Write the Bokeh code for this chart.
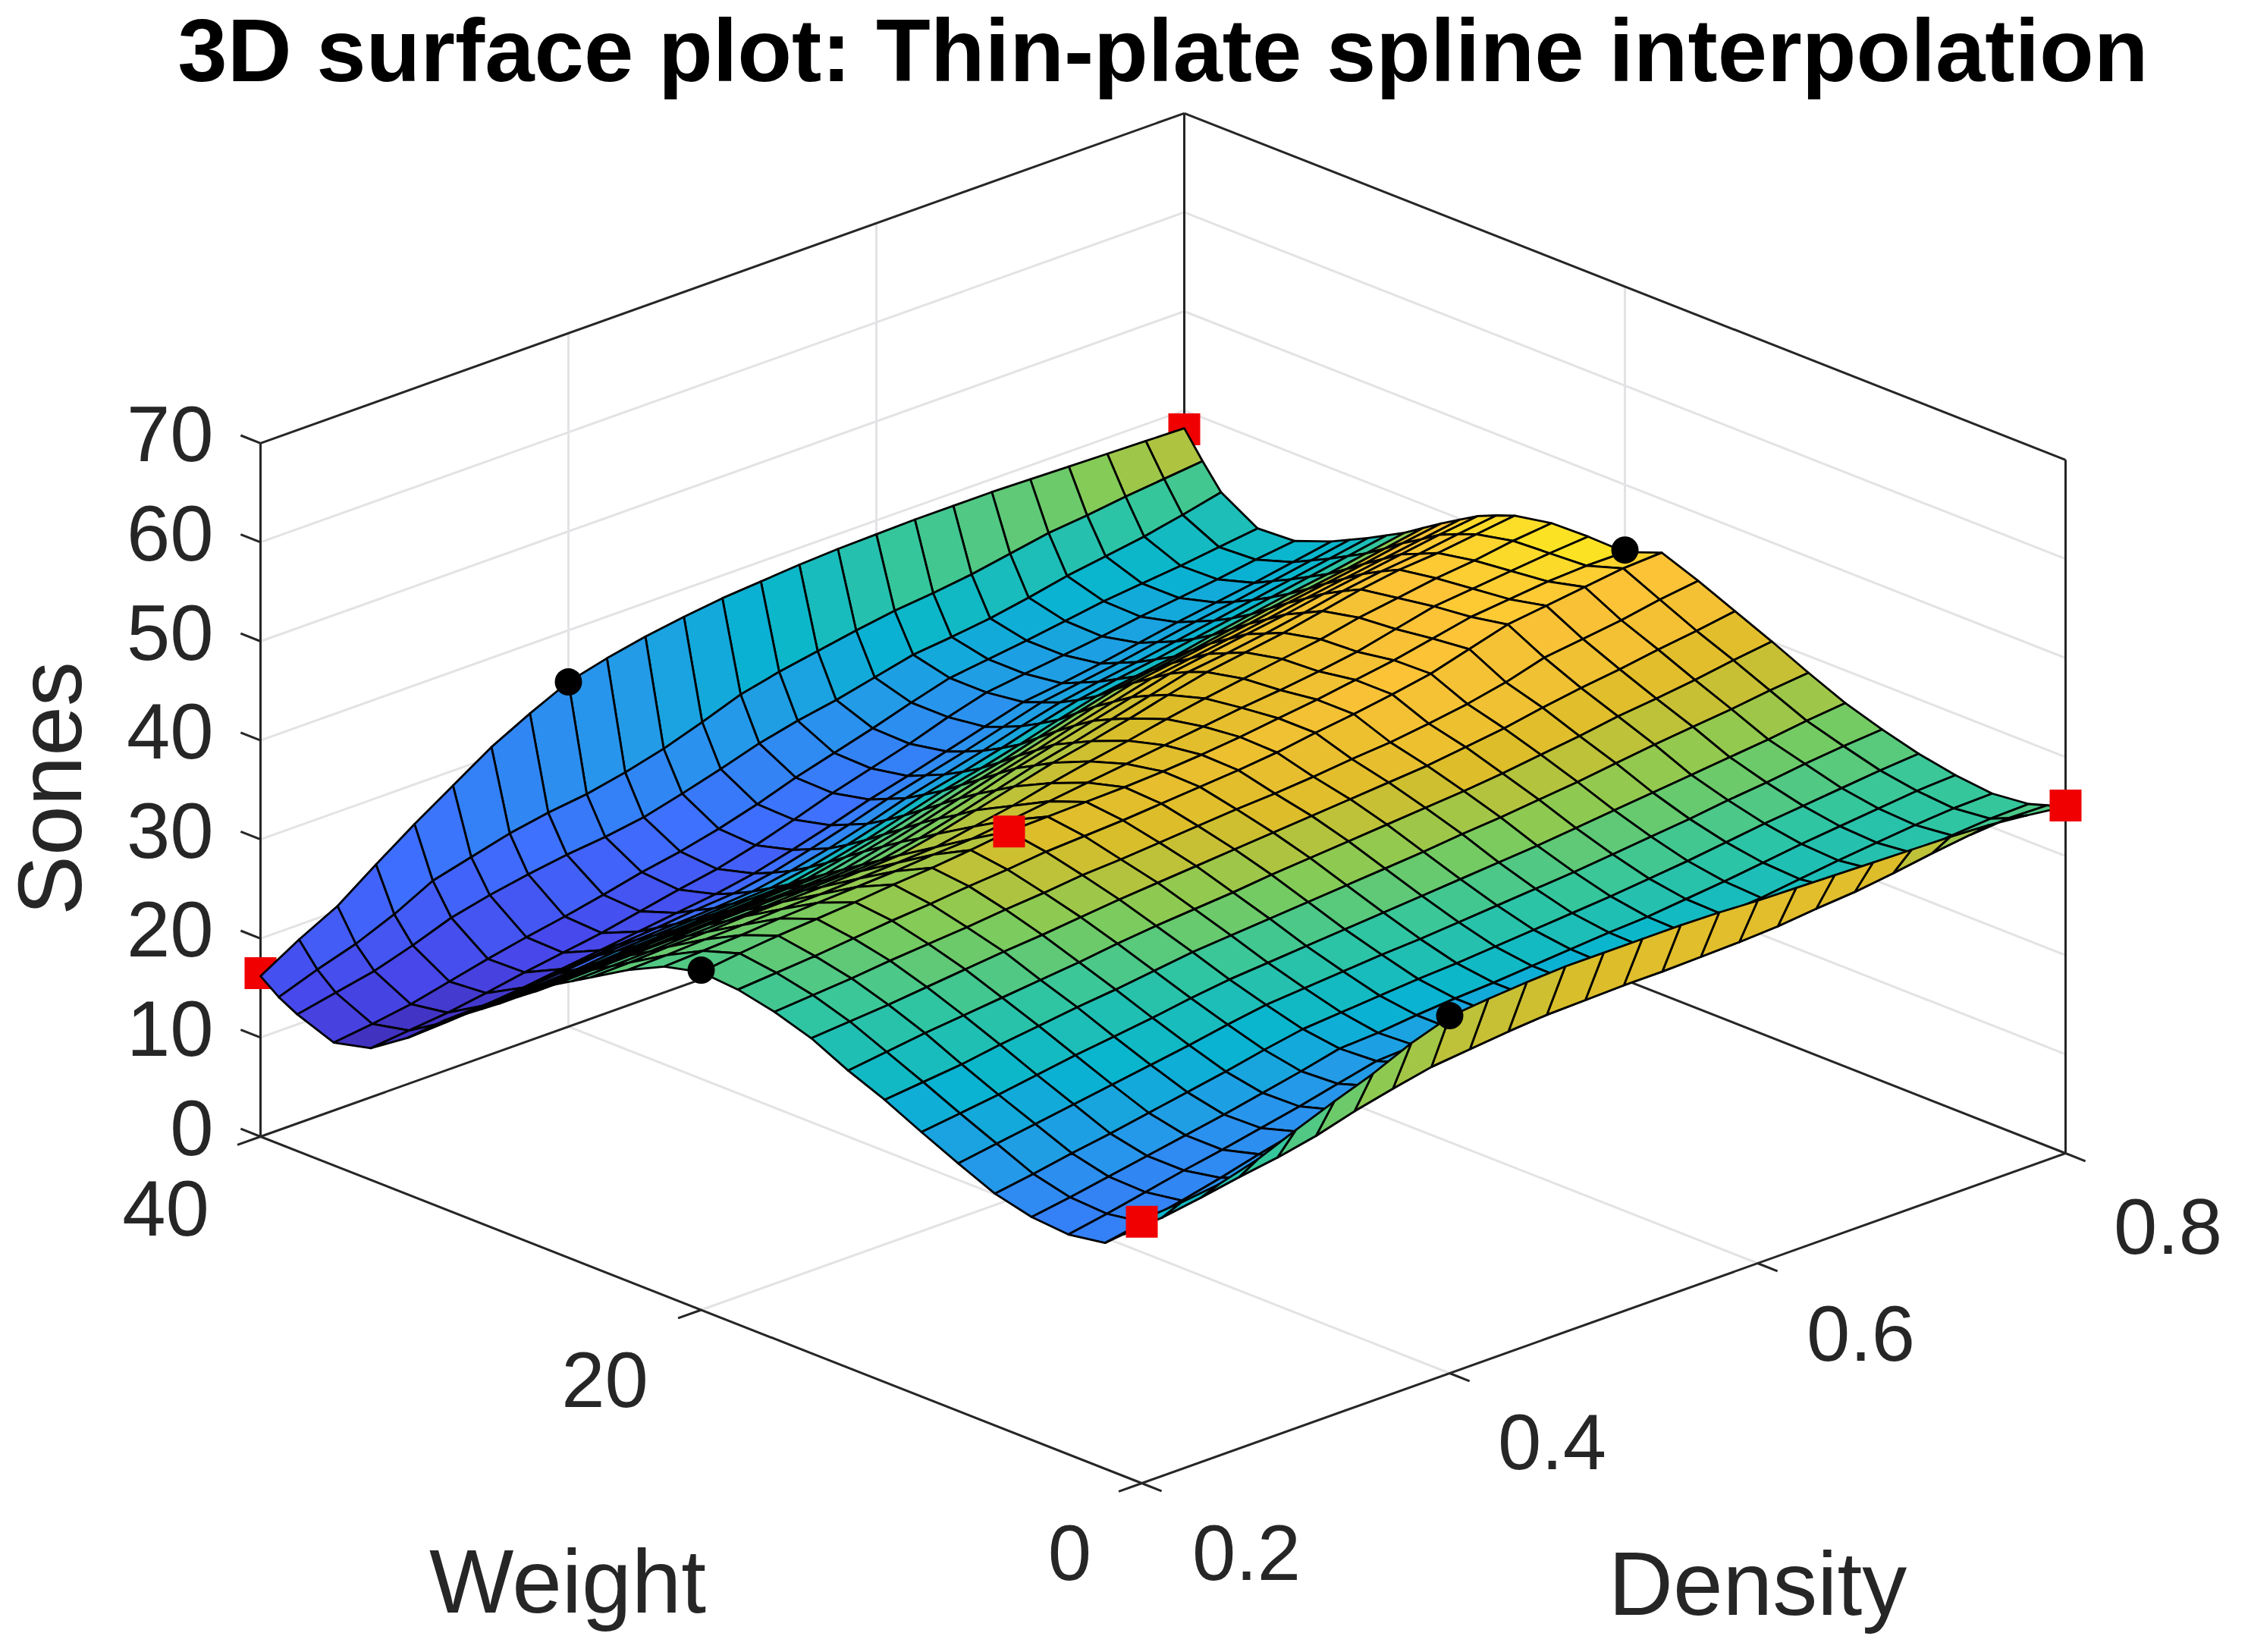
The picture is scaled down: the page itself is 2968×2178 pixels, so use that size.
import numpy as np
from bokeh.plotting import figure
from bokeh.models import Range1d, ColumnDataSource, LinearColorMapper
from bokeh.core.properties import value
from bokeh.embed import file_html
from bokeh.resources import INLINE

TITLE = "3D surface plot: Thin-plate spline interpolation"
density_ticks = [0.2, 0.4, 0.6, 0.8]
weight_ticks = [0, 20, 40]
sones_ticks = [0, 10, 20, 30, 40, 50, 60, 70]

# data points shown as markers
red_back_density = [0.2, 0.8]
red_back_weight = [40, 40]
red_back_sones = [16.5, 38.1]
red_front_density = [0.2, 0.8, 0.4]
red_front_weight = [0, 0, 20]
red_front_sones = [26.4, 35.1, 37.2]
black_density = [0.2, 0.4, 0.8, 0.4]
black_weight = [20, 40, 20, 0]
black_sones = [34.3, 34.8, 43.4, 36.1]

# mesh nodes
density_nodes = [0.2, 0.225, 0.25, 0.275, 0.3, 0.325, 0.35, 0.375, 0.4, 0.425, 0.45, 0.475, 0.5,
                 0.525, 0.55, 0.575, 0.6, 0.625, 0.65, 0.675, 0.7, 0.725, 0.75, 0.775, 0.8]
weight_nodes = [0, 0.83, 1.67, 3.33, 5, 6.67, 8.33, 10, 11.67, 13.33, 15, 16.67, 18.33, 20,
                21.67, 23.33, 25, 25.83, 26.67, 27.5, 28.33, 29.17, 30, 30.83, 31.67, 32.5, 33.33,
                35, 36.67, 38.33, 39.17, 40]

# surface height at each node, one row per weight node
sones = [
[26.6,26.9,27.4,28.5,30.1,31.6,33,34.7,36,36.4,36.7,36.9,36.9,36.9,36.9,36.8,36.6,36.5,36.4,36.3,36.2,36.1,35.9,35.5,35],
[24.4,24.7,25.3,26,26.6,27.4,28.5,29.4,30.2,30.6,31,31.3,31.4,31.5,31.5,31.6,31.7,31.9,32.3,32.6,33.1,33.7,34.2,34.5,34.4],
[22.8,23.5,24.3,25.2,26.2,27.1,27.9,28.9,29.8,30,30.2,30.4,30.5,30.7,30.9,31,31.2,31.5,31.8,32.2,32.7,33,33.4,33.7,33.8],
[22.2,22.9,23.7,24.5,25.2,26,26.8,27.7,28.6,28.8,29,29.3,29.5,29.8,30,30.3,30.5,30.9,31.2,31.7,32.2,32.6,33,33.3,33.4],
[22.5,23.1,23.8,24.5,25.2,25.9,26.7,27.5,28.4,28.6,29,29.3,29.5,29.8,30.1,30.4,30.6,31,31.4,31.9,32.4,32.8,33.2,33.6,33.8],
[23.4,24,24.7,25.3,26,26.7,27.4,28.2,28.9,29.2,29.5,29.8,30,30.3,30.6,30.9,31.2,31.6,32,32.5,33,33.4,33.8,34.2,34.5],
[25,25.6,26.2,26.8,27.4,28,28.6,29.3,29.9,30.2,30.5,30.8,31,31.3,31.6,31.9,32.2,32.6,33,33.4,33.9,34.3,34.8,35.2,35.5],
[26.7,27.2,27.7,28.3,28.9,29.4,29.9,30.5,31,31.3,31.6,31.9,32.2,32.5,32.8,33.1,33.4,33.8,34.2,34.6,35,35.4,35.8,36.3,36.7],
[28.5,28.9,29.3,29.9,30.4,30.9,31.3,31.8,32.3,32.6,32.9,33.2,33.5,33.8,34.1,34.5,34.8,35.2,35.6,36.1,36.6,37,37.4,37.9,38.3],
[30,30.5,31,31.4,31.8,32.2,32.6,33.1,33.5,33.8,34.1,34.5,34.8,35.1,35.4,35.7,36,36.4,36.9,37.4,38,38.4,38.9,39.5,40],
[31.8,32.1,32.4,32.8,33.2,33.6,33.9,34.3,34.7,35,35.3,35.6,35.9,36.2,36.5,36.8,37.1,37.6,38.1,38.8,39.4,39.9,40.5,41,41.6],
[33,33.3,33.6,34,34.3,34.6,35,35.3,35.7,35.9,36.2,36.5,36.8,37,37.3,37.7,38,38.5,39.1,39.9,41,41.5,42,42.7,43.2],
[33.8,34.1,34.4,34.8,35.2,35.5,35.9,36.2,36.6,36.8,37,37.3,37.6,37.9,38.3,38.9,39.4,40,40.7,41.8,42.9,43.4,43.9,44.4,44.6],
[34.1,34.6,35,35.3,35.6,36,36.3,36.7,37.2,37.3,37.4,37.5,37.7,38,38.4,38.9,39.4,40,40.6,41.4,42.2,42.6,43,43.2,43.2],
[33.2,33.4,33.6,33.9,34.1,34.3,34.5,34.8,35,35.5,36,36.5,37,37.5,38,38.5,38.9,39.4,40,40.9,41.8,42.2,42.6,43,43.3],
[31.4,31.5,31.7,31.8,32,32.1,32.3,32.5,32.7,33.4,34.1,35,35.8,36.5,37.3,38,38.6,39.2,39.8,40.6,41.2,41.8,42.2,42.8,43.2],
[29.2,29.3,29.5,29.6,29.8,29.9,30,30.2,30.4,31.2,32.2,33.2,34.2,35,35.9,36.9,37.8,38.4,39,39.8,40.6,41.2,41.5,42,42.5],
[28.1,28.2,28.3,28.5,28.6,28.7,28.9,29,29.2,30,31,32.1,33.2,34.1,35.1,36.1,37.1,37.6,38.2,38.9,39.7,40.3,40.7,41.3,41.8],
[27,27.1,27.2,27.3,27.5,27.6,27.7,27.8,28,28.9,29.9,31,32.2,33.2,34.2,35.2,36.2,36.8,37.4,38,38.7,39.3,39.9,40.5,41],
[25.6,25.7,25.9,26,26.2,26.4,26.5,26.6,26.8,27.7,28.7,29.8,30.9,31.9,33,34,35,35.6,36.2,36.8,37.5,38.1,38.7,39.3,39.9],
[24.3,24.4,24.6,24.8,25,25.2,25.3,25.5,25.6,26.5,27.4,28.5,29.6,30.6,31.7,32.8,33.8,34.4,35,35.6,36.3,36.9,37.5,38.2,38.8],
[22.9,23,23.2,23.4,23.7,23.9,24,24.2,24.4,25.2,26.1,27.2,28.3,29.2,30.3,31.4,32.4,33,33.6,34.3,35,35.6,36.2,36.9,37.6],
[21.6,21.7,21.9,22.1,22.4,22.6,22.8,23,23.1,23.9,24.8,25.9,27,27.9,28.9,30,31,31.6,32.2,33,33.7,34.4,35,35.7,36.4],
[20.3,20.4,20.6,20.8,21.2,21.4,21.6,21.8,22,22.7,23.6,24.7,25.9,26.8,27.8,28.9,29.9,30.6,31.2,31.9,32.6,33.3,34,34.7,35.4],
[19,19.1,19.3,19.6,20,20.2,20.4,20.6,20.9,21.6,22.5,23.6,24.8,25.8,26.8,27.9,28.9,29.6,30.2,30.9,31.6,32.3,33,33.7,34.4],
[17.4,17.5,17.8,18.2,18.6,19,19.3,19.7,20,20.7,21.7,22.8,24,25,26,27.1,28.2,28.8,29.4,30.1,30.8,31.4,32.1,32.8,33.5],
[15.8,16,16.3,16.7,17.2,17.7,18.2,18.7,19.2,19.9,20.9,22,23.2,24.2,25.3,26.4,27.5,28,28.6,29.3,30,30.6,31.2,31.9,32.6],
[13.3,13.7,14.1,14.7,15.4,16,16.6,17.4,18.2,18.9,19.9,21.1,22.4,23.5,24.6,25.9,27,27.5,28,28.5,29.1,29.6,30.1,30.7,31.2],
[12.4,12.9,13.5,14.4,15.3,16.1,16.8,17.6,18.5,19.2,20.1,21.2,22.5,23.6,24.7,25.9,27,27.5,28,28.6,29.2,29.6,30,30.5,31],
[13.8,14.6,15.4,16.6,18,18.9,19.6,20.2,20.6,21.2,22.2,23.3,24.5,25.4,26.1,27,27.9,28.3,28.8,29.5,30.3,30.9,31.5,32.3,33.2],
[14.8,16.2,17.4,19,21,22,23,23.7,24.2,25,26,27.3,28.7,29.6,30.3,31,31.6,32,32.5,33.2,33.9,34.3,34.8,35.2,35.6],
[16.2,18.5,20.5,23.3,26,28.5,31,33,34.8,35.8,36.6,37.2,37.7,38,38.3,38.5,38.6,38.7,38.7,38.7,38.6,38.5,38.4,38.3,38.2],
]

# colour index (0-100) of each mesh cell, one row per weight interval
cell_colour = [
[45,48,52,56,60,64,68,71,74,75,76,77,78,79,79,80,80,80,79,78,74,70,66,60],
[30,31,32,33,34,35,36,37,38,39,41,42,44,45,47,48,50,51,52,54,55,56,58,59],
[27,28,29,30,31,32,33,35,36,37,38,39,41,42,43,44,46,47,49,50,52,53,55,56],
[27,28,29,30,32,33,34,35,37,38,39,41,42,43,45,46,48,49,50,51,52,53,55,56],
[30,31,33,34,36,37,39,40,42,43,44,46,47,48,50,51,52,53,54,54,55,56,57,57],
[34,36,37,39,40,42,44,45,47,48,49,51,52,53,54,56,57,58,58,59,60,60,61,61],
[38,40,41,43,45,47,49,50,52,53,54,55,57,58,59,60,62,62,63,63,64,64,65,65],
[42,44,46,48,50,51,53,55,57,58,59,61,62,63,65,66,68,68,69,69,69,69,70,70],
[47,49,51,53,55,57,59,61,63,64,65,67,68,69,70,71,73,73,74,74,74,75,75,75],
[51,53,55,58,60,62,64,66,68,69,70,72,73,74,75,76,78,78,79,79,79,80,80,80],
[55,57,59,62,64,66,68,70,73,74,75,76,78,79,80,81,83,83,84,84,84,85,85,85],
[58,60,62,65,67,69,72,74,76,77,78,79,80,81,82,83,85,86,86,86,87,87,88,88],
[60,62,65,67,69,71,74,76,78,79,80,81,82,83,84,85,87,88,88,89,90,90,91,92],
[60,62,64,66,68,69,71,73,75,76,77,78,79,80,81,82,84,85,87,88,90,91,93,95],
[60,62,64,65,67,69,70,72,74,75,76,77,78,79,80,81,82,84,86,87,89,91,93,95],
[62,63,64,65,67,68,69,71,72,73,74,75,76,77,78,79,80,82,84,86,88,90,92,94],
[60,61,62,62,63,64,64,65,66,68,70,71,73,75,77,78,80,82,83,85,86,88,90,93],
[60,60,61,61,62,62,63,63,64,66,68,70,72,74,76,78,80,82,83,85,86,88,90,93],
[58,58,59,59,60,60,61,61,62,64,66,68,70,72,75,77,79,81,82,83,85,86,88,91],
[58,58,58,59,59,59,59,60,60,62,64,66,68,71,73,75,77,79,80,81,83,84,86,89],
[55,55,56,56,56,57,57,57,58,59,61,62,64,65,67,68,70,71,72,73,75,76,78,80],
[48,49,50,51,52,52,53,54,55,55,56,56,56,57,57,58,58,59,60,62,63,64,66,68],
[30,32,35,37,39,41,43,46,48,48,48,47,47,47,47,46,46,47,48,50,51,52,54,56],
[14,17,19,22,25,28,30,33,36,36,37,37,38,38,39,39,40,41,43,44,45,46,48,50],
[8,10,13,15,17,19,22,24,26,28,29,31,32,33,35,36,38,39,40,41,42,43,45,46],
[6,8,10,11,13,15,16,18,20,22,24,26,28,30,32,34,36,37,38,39,40,42,43,45],
[4,5,6,8,10,11,13,14,16,18,21,23,25,27,30,32,35,36,37,38,40,41,43,45],
[4,5,7,9,11,12,14,15,17,19,22,24,26,28,31,33,36,37,39,40,41,43,45,47],
[9,10,11,13,15,16,18,19,21,23,25,28,30,32,35,37,40,41,42,44,45,46,48,50],
[12,13,15,17,19,21,23,25,27,29,32,34,36,38,41,43,46,47,49,50,52,54,56,58],
[14,17,19,22,24,27,29,31,33,35,38,40,43,46,49,52,56,58,60,62,64,67,70,72],
]

PARULA = [(0.2422,0.1504,0.6603),(0.2803,0.2782,0.9221),(0.2440,0.4358,0.9988),(0.1540,0.5902,0.9218),
          (0.0297,0.7082,0.8163),(0.1938,0.7758,0.6251),(0.5044,0.7993,0.3480),(0.8634,0.7406,0.1616),
          (0.9970,0.7659,0.2199),(0.9769,0.9839,0.0805)]
pt = np.linspace(0, 1, len(PARULA))
arr = np.array(PARULA)
palette = ["#%02x%02x%02x" % tuple(int(round(255 * np.interp(t, pt, arr[:, k]))) for k in range(3))
           for t in np.linspace(0, 1, 256)]

# orthographic view of the box, in page pixels
ORIGIN = (1505.0, 1955.0)
DU = (1218.0, -435.0)
DV = (-1162.0, -457.0)
DZ = -13.06

def project(d, w, z):
    u = (np.asarray(d, float) - 0.2) / 0.6
    v = np.asarray(w, float) / 40.0
    return ORIGIN[0] + DU[0] * u + DV[0] * v, ORIGIN[1] + DU[1] * u + DV[1] * v + DZ * np.asarray(z, float)

p = figure(width=2952, height=2162, output_backend="svg", toolbar_location=None,
           x_range=Range1d(0, 2952), y_range=Range1d(2162, 0), min_border=0)
p.axis.visible = False
p.grid.visible = False
p.outline_line_color = None
p.background_fill_color = "white"

def seg(points, color, width):
    xs0, ys0, xs1, ys1 = [], [], [], []
    for a, b in points:
        x0, y0 = project(*a)
        x1, y1 = project(*b)
        xs0.append(float(x0)); ys0.append(float(y0)); xs1.append(float(x1)); ys1.append(float(y1))
    p.segment(xs0, ys0, xs1, ys1, line_color=color, line_width=width)

GRID = "#e3e3e6"
grid = []
for z in sones_ticks[1:-1]:
    grid.append(((0.2, 40, z), (0.8, 40, z)))
    grid.append(((0.8, 0, z), (0.8, 40, z)))
for d in density_ticks[1:-1]:
    grid.append(((d, 0, 0), (d, 40, 0)))
    grid.append(((d, 40, 0), (d, 40, 70)))
for w in weight_ticks[1:-1]:
    grid.append(((0.2, w, 0), (0.8, w, 0)))
    grid.append(((0.8, w, 0), (0.8, w, 70)))
seg(grid, GRID, 3)

AX = "#262626"
box = [((0.2, 0, 0), (0.8, 0, 0)), ((0.2, 0, 0), (0.2, 40, 0)),
       ((0.2, 40, 0), (0.2, 40, 70)), ((0.8, 0, 0), (0.8, 0, 70)),
       ((0.2, 40, 70), (0.8, 40, 70)), ((0.8, 0, 70), (0.8, 40, 70)),
       ((0.8, 40, 0), (0.8, 40, 70)), ((0.2, 40, 0), (0.8, 40, 0)), ((0.8, 0, 0), (0.8, 40, 0))]
for z in sones_ticks:
    box.append(((0.2, 40, z), (0.2, 40.9, z)))
for d in density_ticks:
    box.append(((d, 0, 0), (d, -0.9, 0)))
for w in weight_ticks:
    box.append(((0.2, w, 0), (0.185, w, 0)))
seg(box, AX, 3)

def markers(ds, ws, zs, marker, color, size):
    x, y = project(ds, ws, zs)
    p.scatter(list(x), list(y), marker=marker, size=size, fill_color=color, line_color=color, line_width=0)

markers(red_back_density, red_back_weight, red_back_sones, "square", "#f00000", 42)

# surface, far cells first
Z = np.array(sones)
D, W = np.meshgrid(density_nodes, weight_nodes)
PX, PY = project(D, W, Z)
cx, cy, cc = [], [], []
for r in range(len(weight_nodes) - 2, -1, -1):
    for i in range(len(density_nodes) - 2, -1, -1):
        cx.append([PX[r, i], PX[r, i + 1], PX[r + 1, i + 1], PX[r + 1, i]])
        cy.append([PY[r, i], PY[r, i + 1], PY[r + 1, i + 1], PY[r + 1, i]])
        cc.append(cell_colour[r][i])
mapper = LinearColorMapper(palette=palette, low=0, high=100)
p.patches("x", "y", source=ColumnDataSource(dict(x=cx, y=cy, c=cc)),
          fill_color={"field": "c", "transform": mapper}, line_color="#000000", line_width=2.8, line_join="round")

markers(red_front_density, red_front_weight, red_front_sones, "square", "#f00000", 42)
markers(black_density, black_weight, black_sones, "circle", "#000000", 36)

def label(x, y, text, size, align="center", angle=0.0, style="normal", color="#262626"):
    p.text([x], [y], text=[text], text_font=value("Liberation Sans"), text_font_size=f"{size}px",
           text_font_style=style, text_color=color, text_align=align, text_baseline="middle", angle=angle)

for z in sones_ticks:
    x, y = project(0.2, 40, z)
    label(float(x) - 62, float(y) - 12, str(z), 103, align="right")
for lab, (x, y) in zip(["0.2", "0.4", "0.6", "0.8"], [(1643, 2046), (2046, 1900), (2453, 1757), (2858, 1616)]):
    label(x, y, lab, 103)
for lab, (x, y) in zip(["0", "20", "40"], [(1410, 2046), (797, 1818), (218, 1592)]):
    label(x, y, lab, 103)
label(748, 2084, "Weight", 118)
label(2317, 2087, "Density", 118)
label(65, 1039, "Sones", 118, angle=np.pi / 2)
label(1533, 66, TITLE, 117.5, style="bold", color="#000000")

open("out.html", "w").write(file_html(p, INLINE))
